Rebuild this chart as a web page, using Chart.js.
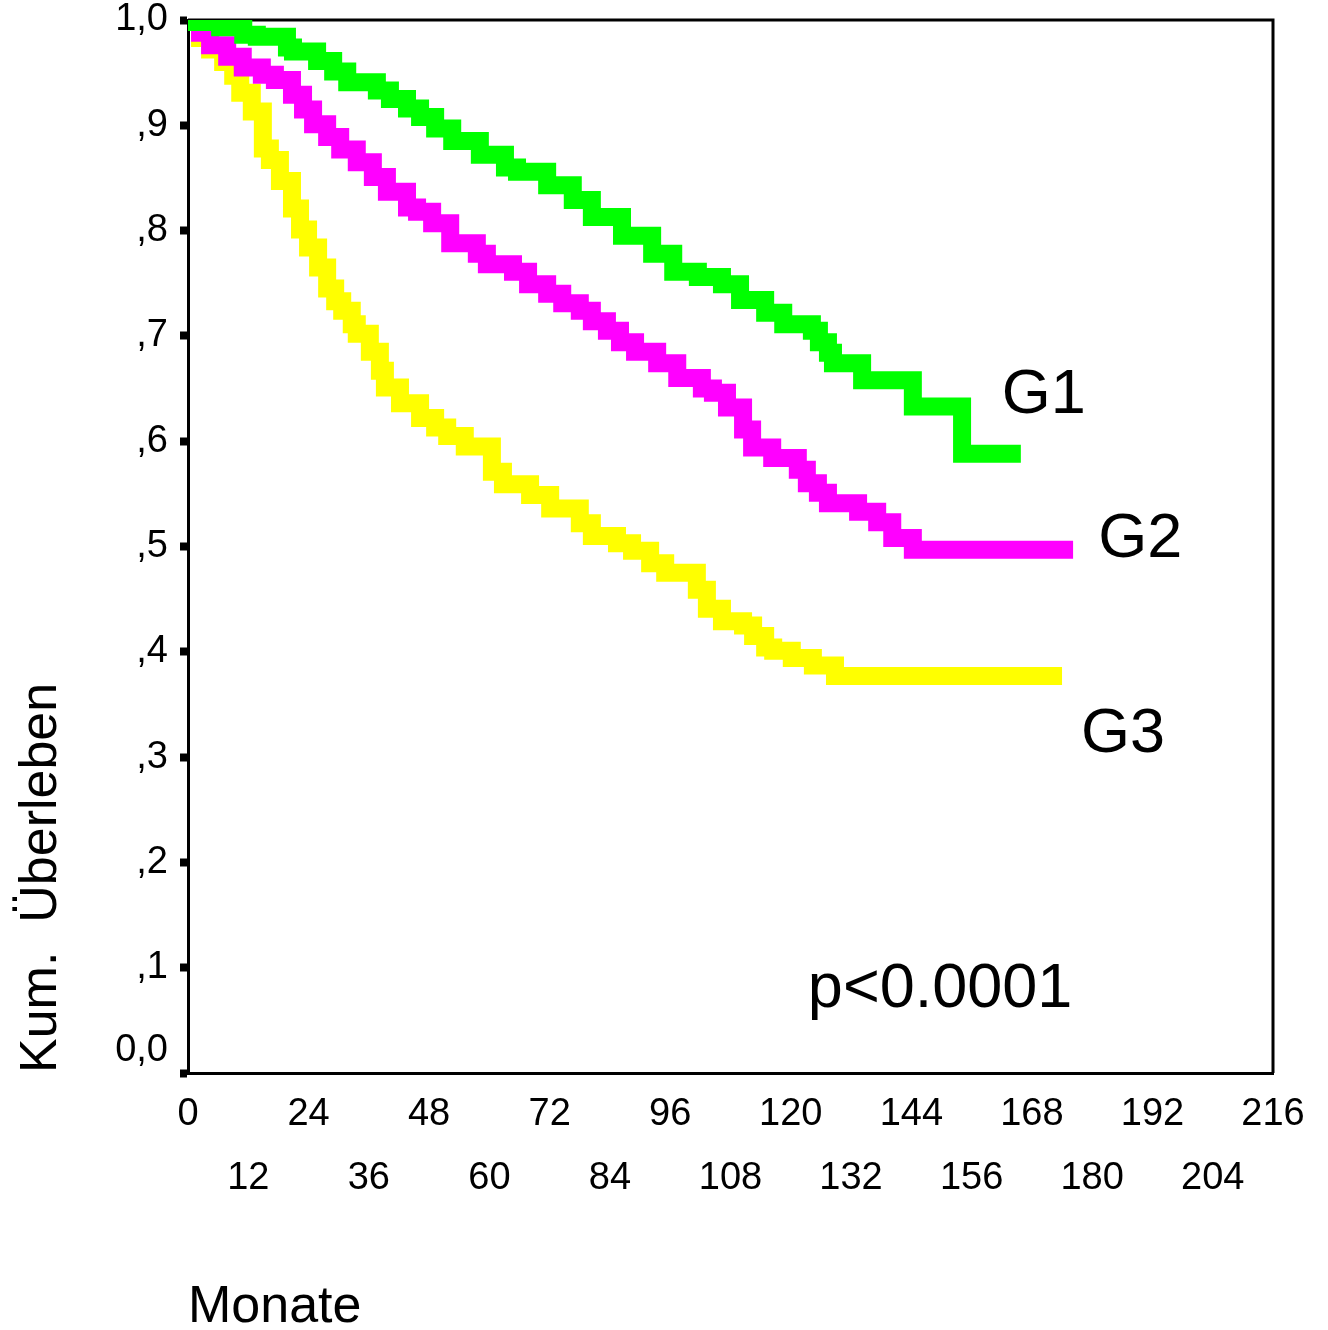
<!DOCTYPE html>
<html>
<head>
<meta charset="utf-8">
<script src="https://cdn.jsdelivr.net/npm/chart.js@4.4.1/dist/chart.umd.min.js"></script>
<style>
  html, body { margin: 0; padding: 0; background: #fff; }
  #wrap { width: 1328px; height: 1330px; }
</style>
</head>
<body>
<div id="wrap"><canvas id="km"></canvas></div>
<script>
// Kaplan-Meier curves, months vs cumulative survival
const g1Months = [0, 1, 6.4, 11, 13.7, 19.7, 20.9, 25.7, 28.9, 31.7, 37.6, 40.2, 43.6, 46.2, 49.2, 52.6, 58.1, 63.1, 65.5, 71.5, 76.6, 80.4, 86.4, 92.4, 96.6, 101.5, 106.3, 109.9, 114.9, 118.5, 124.2, 125.6, 127.4, 128.4, 134.2, 144.3, 154.1, 165.8];
const g1Surv = [1.0, 0.998, 0.993, 0.986, 0.984, 0.974, 0.970, 0.961, 0.951, 0.941, 0.933, 0.925, 0.916, 0.908, 0.897, 0.885, 0.872, 0.860, 0.856, 0.843, 0.829, 0.813, 0.795, 0.778, 0.761, 0.756, 0.749, 0.734, 0.722, 0.711, 0.705, 0.694, 0.684, 0.674, 0.658, 0.633, 0.588, 0.588];

const g2Months = [0, 2.4, 4.4, 7.8, 10.9, 14.7, 17.3, 20.7, 22.9, 24.9, 27.7, 30.3, 33.6, 36.8, 39.6, 43.6, 45.6, 48.6, 52.2, 57.5, 59.5, 64.7, 67.7, 71.5, 74.5, 78.0, 80.4, 83.4, 86, 89, 93.4, 97.4, 102.3, 104.5, 107.3, 110.5, 112.3, 116.3, 121.4, 123.2, 125.4, 127.4, 133.4, 137.2, 140.2, 144.3, 176.2];
const g2Surv = [1.0, 0.988, 0.976, 0.965, 0.955, 0.948, 0.943, 0.929, 0.915, 0.901, 0.889, 0.877, 0.865, 0.851, 0.837, 0.822, 0.818, 0.807, 0.788, 0.778, 0.768, 0.761, 0.749, 0.740, 0.731, 0.724, 0.714, 0.705, 0.694, 0.685, 0.674, 0.660, 0.650, 0.646, 0.632, 0.611, 0.594, 0.584, 0.573, 0.560, 0.551, 0.541, 0.533, 0.523, 0.508, 0.497, 0.497];

const g3Months = [0, 2.4, 4.4, 7, 9, 10.4, 12.7, 14.9, 16.3, 18.3, 20.7, 22.3, 23.9, 25.9, 27.7, 29.3, 30.7, 32.6, 33.6, 36.2, 38.2, 39.2, 42.2, 46.2, 49.2, 51.6, 55.1, 60.5, 62.7, 68.1, 72.1, 78.0, 80.4, 85.4, 88.4, 92.0, 95.0, 101.3, 103.3, 106.3, 110.5, 112.5, 114.9, 116.5, 120.2, 124.4, 128.8, 174];
const g3Surv = [1.0, 0.983, 0.972, 0.960, 0.947, 0.931, 0.913, 0.878, 0.867, 0.847, 0.821, 0.801, 0.784, 0.765, 0.745, 0.733, 0.724, 0.711, 0.702, 0.685, 0.667, 0.651, 0.636, 0.622, 0.613, 0.605, 0.595, 0.571, 0.559, 0.549, 0.536, 0.522, 0.510, 0.503, 0.496, 0.484, 0.475, 0.459, 0.441, 0.429, 0.425, 0.415, 0.404, 0.401, 0.394, 0.387, 0.377, 0.377];

const xTickLabels = ['0', '12', '24', '36', '48', '60', '72', '84', '96', '108', '120', '132', '144', '156', '168', '180', '192', '204', '216'];
const yTickLabels = ['0,0', ',1', ',2', ',3', ',4', ',5', ',6', ',7', ',8', ',9', '1,0'];

// curve labels: [text, month, survival] (baseline position in data units)
const curveLabels = [
  ['G1', 162, 0.627],
  ['G2', 181.2, 0.490],
  ['G3', 177.8, 0.305],
  ['p<0.0001', 123.4, 0.063],
];

const FONT = '"Liberation Sans", Arial, Helvetica, sans-serif';

const toPoints = (xs, ys) => xs.map((x, i) => ({ x, y: ys[i] }));

function kmSet(label, xs, ys, color) {
  return {
    label,
    data: toPoints(xs, ys),
    borderColor: color,
    backgroundColor: color,
    borderWidth: 18,
    borderCapStyle: 'butt',
    borderJoinStyle: 'miter',
    stepped: 'before',
    pointRadius: 0,
    fill: false,
  };
}

const frameAndText = {
  id: 'frameAndText',
  beforeDatasetsDraw(chart) {
    const { ctx, chartArea } = chart;
    ctx.save();
    ctx.strokeStyle = '#000';
    ctx.lineWidth = 3;
    ctx.beginPath();
    ctx.moveTo(chartArea.left, chartArea.top);
    ctx.lineTo(chartArea.right, chartArea.top);
    ctx.lineTo(chartArea.right, chartArea.bottom);
    ctx.stroke();
    ctx.restore();
  },
  afterDraw(chart) {
    const { ctx, scales } = chart;
    ctx.save();
    ctx.fillStyle = '#000';
    ctx.font = '63px ' + FONT;
    ctx.textAlign = 'left';
    ctx.textBaseline = 'alphabetic';
    curveLabels.forEach(([txt, m, s]) => {
      ctx.fillText(txt, scales.x.getPixelForValue(m), scales.y.getPixelForValue(s));
    });
    ctx.restore();
  },
};

new Chart(document.getElementById('km').getContext('2d'), {
  type: 'line',
  data: {
    datasets: [
      kmSet('G1', g1Months, g1Surv, '#00FF00'),
      kmSet('G2', g2Months, g2Surv, '#FF00FF'),
      kmSet('G3', g3Months, g3Surv, '#FFFF00'),
    ],
  },
  options: {
    responsive: true,
    maintainAspectRatio: false,
    animation: false,
    layout: { padding: { left: 0, right: 55, top: 20, bottom: 0 } },
    plugins: {
      legend: { display: false },
      tooltip: { enabled: false },
    },
    scales: {
      x: {
        type: 'linear',
        min: 0,
        max: 216,
        ticks: {
          stepSize: 12,
          autoSkip: false,
          maxRotation: 0,
          padding: 10,
          color: '#000',
          font: { family: FONT, size: 38, lineHeight: '64px' },
          callback: (v, i) => (i % 2 === 0 ? [xTickLabels[i], ''] : ['', xTickLabels[i]]),
        },
        grid: { drawOnChartArea: false, drawTicks: false },
        border: { display: true, color: '#000', width: 3 },
        title: {
          display: true,
          text: 'Monate',
          align: 'start',
          color: '#000',
          font: { family: FONT, size: 52, lineHeight: 0.85 },
          padding: { top: 0, bottom: 0 },
        },
        afterFit(scale) {
          scale.height = 257;
          scale.paddingLeft = 0;
          scale.paddingRight = 0;
        },
      },
      y: {
        type: 'linear',
        min: 0,
        max: 1,
        ticks: {
          stepSize: 0.1,
          padding: 12,
          color: '#000',
          font: { family: FONT, size: 38 },
          callback: (v, i) => (i === 0 ? [yTickLabels[i], ''] : yTickLabels[i]),
        },
        grid: {
          drawOnChartArea: false,
          tickLength: 8,
          tickWidth: 8,
          tickColor: '#000',
        },
        border: { display: true, color: '#000', width: 3 },
        title: {
          display: true,
          text: 'Kum.  Überleben',
          align: 'start',
          color: '#000',
          font: { family: FONT, size: 52, lineHeight: 1 },
          padding: { top: 16, bottom: 0 },
        },
        afterFit(scale) {
          scale.width = 188;
          scale.paddingTop = 0;
          scale.paddingBottom = 0;
        },
      },
    },
  },
  plugins: [frameAndText],
});
</script>
</body>
</html>
